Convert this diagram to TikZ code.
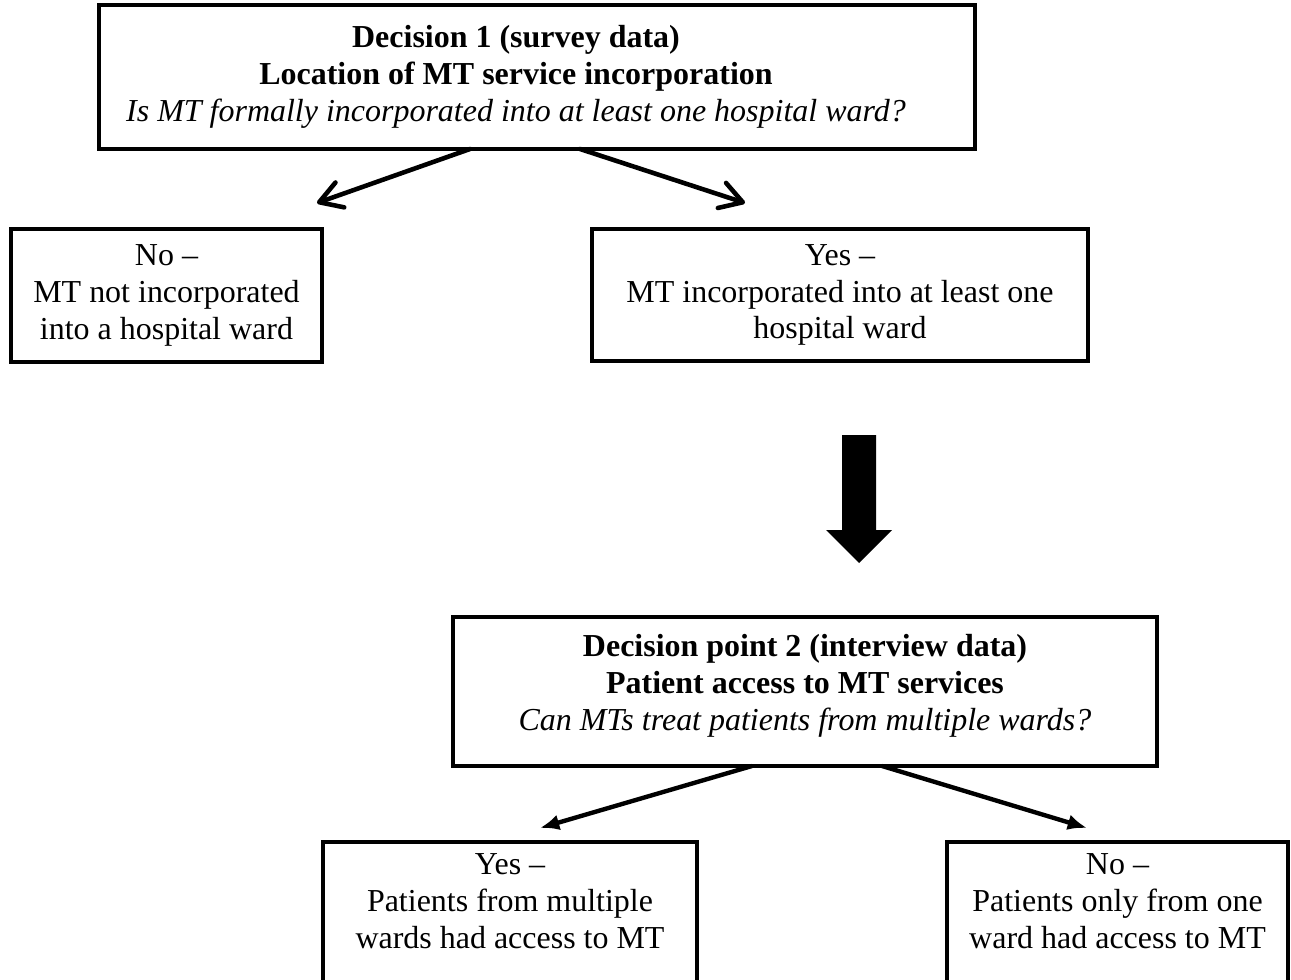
\documentclass[tikz,border=0pt]{standalone}
\usepackage{fontspec}
\setmainfont{Liberation Serif}
\usetikzlibrary{arrows.meta}
\tikzset{
box/.style={draw, line width=2.4pt, align=center, inner sep=0pt, outer sep=0pt},
barbarrow/.style={line width=2.6pt, line cap=round, -{Straight Barb[length=12.5pt,width=15pt,line cap=round,line join=round]}},
solidarrow/.style={line width=2.5pt, -{Latex[length=11pt,width=9pt]}}
}
\begin{document}
\begin{tikzpicture}[x=0.02cm, y=-0.02cm, font=\fontsize{18.2}{21}\selectfont]
\useasboundingbox (0,0) rectangle (1291,980);
\path
(537,77) coordinate (D1)
(516,77) coordinate (D1t)
(166.5,295.5) coordinate (N1)
(840,295) coordinate (Y1)
(805,691.5) coordinate (D2)
(510,842) coordinate (Y2)
(1117.5,842) coordinate (N2)
(317,203) coordinate (tipN1)
(745,203) coordinate (tipY1)
(540,828) coordinate (tipY2)
(1087,828) coordinate (tipN2)
;
\node[box, minimum width=17.52cm, minimum height=2.88cm] (dec1) at (D1) {};
\node[align=center] (dec1txt) at (D1t) {\textbf{Decision 1 (survey data)}\\ \textbf{Location of MT service incorporation}\\ \textit{Is MT formally incorporated into at least one hospital ward?}};
\node[box, minimum width=6.22cm, minimum height=2.66cm] (no1) at (N1) {No --\\ MT not incorporated\\ into a hospital ward};
\node[box, minimum width=9.92cm, minimum height=2.64cm] (yes1) at (Y1) {Yes --\\ MT incorporated into at least one\\ hospital ward};
\node[box, minimum width=14.08cm, minimum height=2.98cm, text depth=0.38cm] (dec2) at (D2) {\textbf{Decision point 2 (interview data)}\\ \textbf{Patient access to MT services}\\ \textit{Can MTs treat patients from multiple wards?}};
\node[box, anchor=north, minimum width=7.48cm, inner ysep=0.24cm, text depth=1.6cm] (yes2) at (Y2) {Yes --\\ Patients from multiple\\ wards had access to MT};
\node[box, anchor=north, minimum width=6.82cm, inner ysep=0.24cm, text depth=1.6cm] (no2) at (N2) {No --\\ Patients only from one\\ ward had access to MT};
\draw[barbarrow] ([xshift=-1.34cm]dec1.south) -- (tipN1);
\draw[barbarrow] ([xshift=0.86cm]dec1.south) -- (tipY1);
\fill (842,435) -- (876,435) -- (876,530) -- (892,530) -- (859,563) -- (826,530) -- (842,530) -- cycle;
\draw[solidarrow] ([xshift=-1.06cm]dec2.south) -- (tipY2);
\draw[solidarrow] ([xshift=1.54cm]dec2.south) -- (tipN2);
\end{tikzpicture}
\end{document}
